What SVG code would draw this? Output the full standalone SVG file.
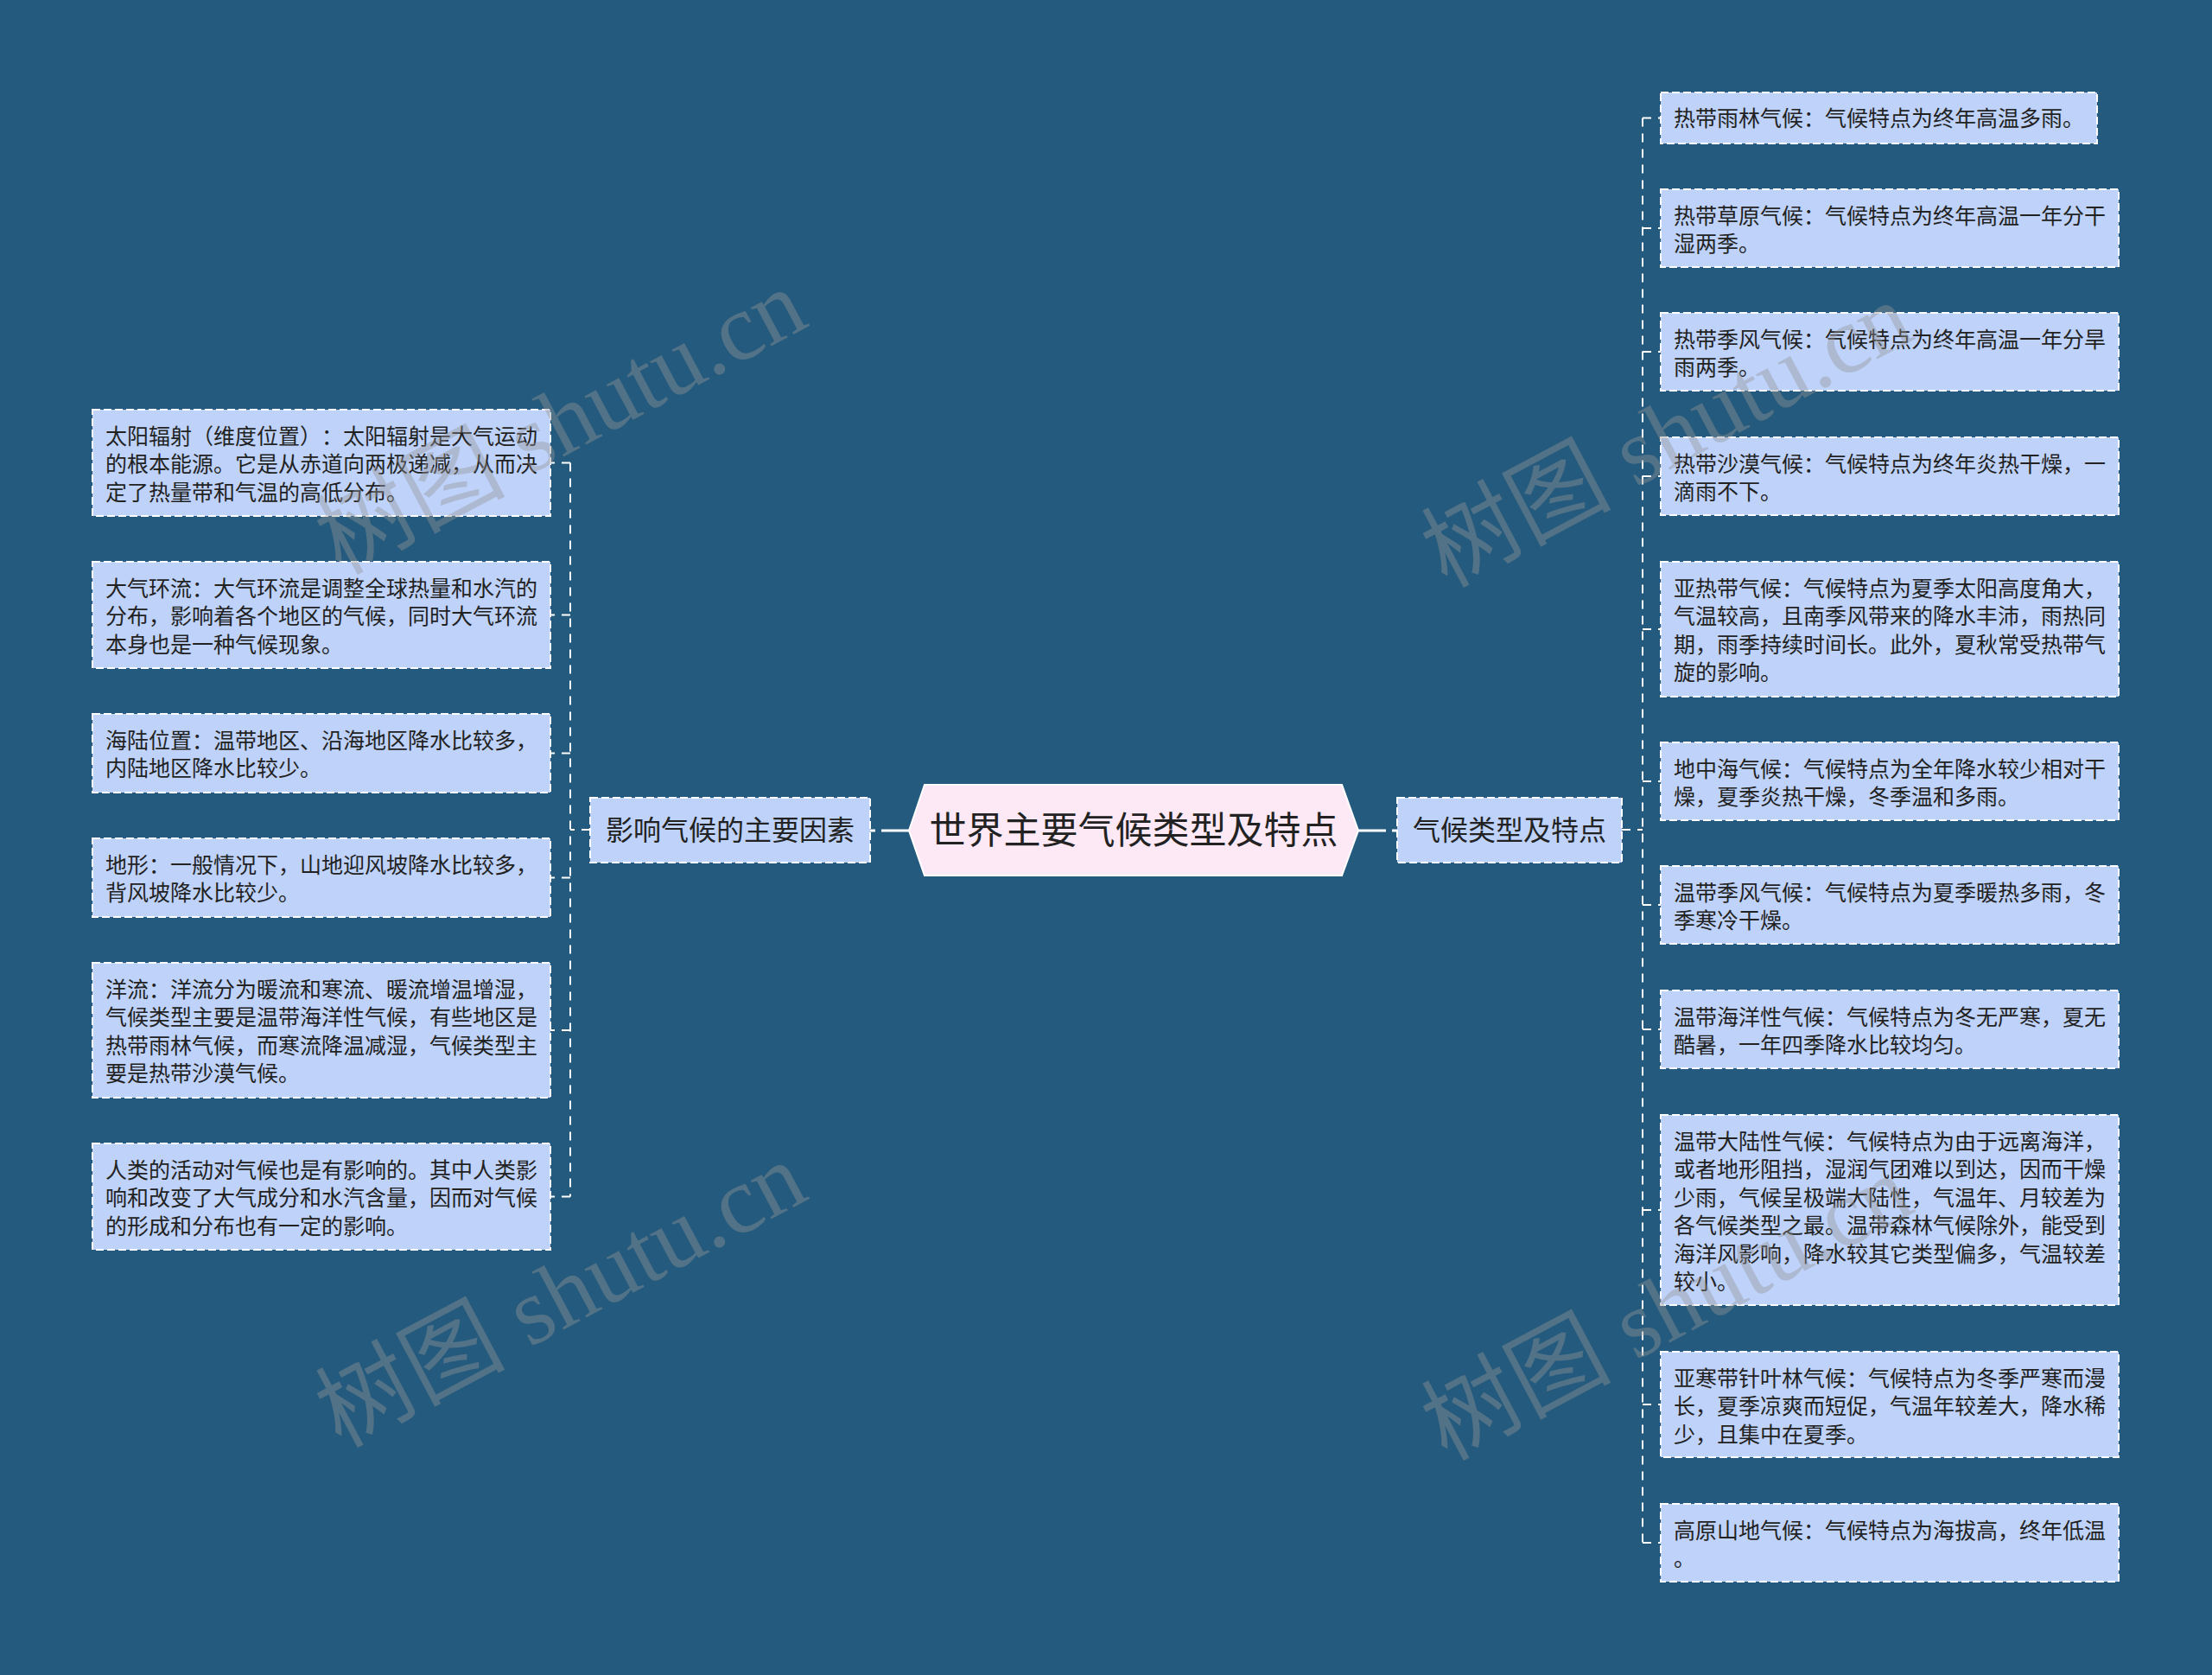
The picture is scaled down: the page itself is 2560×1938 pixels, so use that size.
<svg xmlns="http://www.w3.org/2000/svg" width="2560" height="1938" viewBox="0 0 2560 1938">
<style>
text{text-spacing-trim:space-all;font-feature-settings:"chws" 0,"halt" 0}
.bg{fill:#245a7d}
.box{fill:#bed2fa;stroke:#ffffff;stroke-width:2;stroke-dasharray:9 4}
.t{font-family:"Noto Sans CJK SC","Noto Sans",sans-serif;font-size:25px;fill:#222222}
.bt{font-family:"Noto Sans CJK SC","Noto Sans",sans-serif;font-size:32px;fill:#222222;text-anchor:middle}
.ct{font-family:"Noto Sans CJK SC","Noto Sans",sans-serif;font-size:43px;fill:#222222;text-anchor:middle}
.dash{fill:none;stroke:#ffffff;stroke-width:2;stroke-dasharray:10 8}
.solid{fill:none;stroke:#ffffff;stroke-width:3}
.wm{font-family:"Liberation Serif","Noto Sans CJK SC",serif;font-size:110px;fill:#969696;opacity:0.4;text-anchor:middle}
</style>
<rect class="bg" x="0" y="0" width="2560" height="1938"/>

<g id="connectors">
<path class="solid" d="M1052,961 H1020 M1013,961 H1007"/>
<path class="solid" d="M1572,961 H1604 M1611,961 H1617"/>
<path class="dash" d="M683,960 H660"/>
<path class="dash" d="M660,535.5 V1384.5"/>
<path class="dash" d="M660,535.5 H637 M660,711.5 H637 M660,871.5 H637 M660,1015.5 H637 M660,1192 H637 M660,1384.5 H637"/>
<path class="dash" d="M1877,960 H1901"/>
<path class="dash" d="M1901,136.5 V1785"/>
<path class="dash" d="M1901,136.5 H1922 M1901,264 H1922 M1901,407 H1922 M1901,551 H1922 M1901,728 H1922 M1901,904 H1922 M1901,1047 H1922 M1901,1191 H1922 M1901,1400 H1922 M1901,1625 H1922 M1901,1785 H1922"/>
</g>

<g id="center">
<polygon points="1052,961 1070,908 1553,908 1572,961 1553,1013 1070,1013" fill="#fde8f5" stroke="#ffffff" stroke-width="2"/>
<text class="ct" x="1312" y="976">世界主要气候类型及特点</text>
</g>

<g id="branch-left">
<rect class="box" x="683" y="923" width="324" height="75"/>
<text class="bt" x="845" y="972">影响气候的主要因素</text>
</g>

<g id="branch-right">
<rect class="box" x="1617" y="923" width="260" height="75"/>
<text class="bt" x="1747" y="972">气候类型及特点</text>
</g>

<g id="l1"><rect class="box" x="107" y="474" width="530" height="123"/>
<text class="t" x="122" y="513.5">太阳辐射（维度位置）：太阳辐射是大气运动</text>
<text class="t" x="122" y="546">的根本能源。它是从赤道向两极递减，从而决</text>
<text class="t" x="122" y="578.5">定了热量带和气温的高低分布。</text></g>

<g id="l2"><rect class="box" x="107" y="650" width="530" height="123"/>
<text class="t" x="122" y="689.5">大气环流：大气环流是调整全球热量和水汽的</text>
<text class="t" x="122" y="722">分布，影响着各个地区的气候，同时大气环流</text>
<text class="t" x="122" y="754.5">本身也是一种气候现象。</text></g>

<g id="l3"><rect class="box" x="107" y="826" width="530" height="91"/>
<text class="t" x="122" y="865.5">海陆位置：温带地区、沿海地区降水比较多，</text>
<text class="t" x="122" y="898">内陆地区降水比较少。</text></g>

<g id="l4"><rect class="box" x="107" y="970" width="530" height="91"/>
<text class="t" x="122" y="1009.5">地形：一般情况下，山地迎风坡降水比较多，</text>
<text class="t" x="122" y="1042">背风坡降水比较少。</text></g>

<g id="l5"><rect class="box" x="107" y="1114" width="530" height="156"/>
<text class="t" x="122" y="1153.5">洋流：洋流分为暖流和寒流、暖流增温增湿，</text>
<text class="t" x="122" y="1186">气候类型主要是温带海洋性气候，有些地区是</text>
<text class="t" x="122" y="1218.5">热带雨林气候，而寒流降温减湿，气候类型主</text>
<text class="t" x="122" y="1251">要是热带沙漠气候。</text></g>

<g id="l6"><rect class="box" x="107" y="1323" width="530" height="123"/>
<text class="t" x="122" y="1362.5">人类的活动对气候也是有影响的。其中人类影</text>
<text class="t" x="122" y="1395">响和改变了大气成分和水汽含量，因而对气候</text>
<text class="t" x="122" y="1427.5">的形成和分布也有一定的影响。</text></g>

<g id="r1"><rect class="box" x="1922" y="107" width="505" height="59"/>
<text class="t" x="1937" y="146">热带雨林气候：气候特点为终年高温多雨。</text></g>

<g id="r2"><rect class="box" x="1922" y="219" width="530" height="90"/>
<text class="t" x="1937" y="258.5">热带草原气候：气候特点为终年高温一年分干</text>
<text class="t" x="1937" y="291">湿两季。</text></g>

<g id="r3"><rect class="box" x="1922" y="362" width="530" height="90"/>
<text class="t" x="1937" y="401.5">热带季风气候：气候特点为终年高温一年分旱</text>
<text class="t" x="1937" y="434">雨两季。</text></g>

<g id="r4"><rect class="box" x="1922" y="506" width="530" height="90"/>
<text class="t" x="1937" y="545.5">热带沙漠气候：气候特点为终年炎热干燥，一</text>
<text class="t" x="1937" y="578">滴雨不下。</text></g>

<g id="r5"><rect class="box" x="1922" y="650" width="530" height="156"/>
<text class="t" x="1937" y="689.5">亚热带气候：气候特点为夏季太阳高度角大，</text>
<text class="t" x="1937" y="722">气温较高，且南季风带来的降水丰沛，雨热同</text>
<text class="t" x="1937" y="754.5">期，雨季持续时间长。此外，夏秋常受热带气</text>
<text class="t" x="1937" y="787">旋的影响。</text></g>

<g id="r6"><rect class="box" x="1922" y="859" width="530" height="90"/>
<text class="t" x="1937" y="898.5">地中海气候：气候特点为全年降水较少相对干</text>
<text class="t" x="1937" y="931">燥，夏季炎热干燥，冬季温和多雨。</text></g>

<g id="r7"><rect class="box" x="1922" y="1002" width="530" height="90"/>
<text class="t" x="1937" y="1041.5">温带季风气候：气候特点为夏季暖热多雨，冬</text>
<text class="t" x="1937" y="1074">季寒冷干燥。</text></g>

<g id="r8"><rect class="box" x="1922" y="1146" width="530" height="90"/>
<text class="t" x="1937" y="1185.5">温带海洋性气候：气候特点为冬无严寒，夏无</text>
<text class="t" x="1937" y="1218">酷暑，一年四季降水比较均匀。</text></g>

<g id="r9"><rect class="box" x="1922" y="1290" width="530" height="220"/>
<text class="t" x="1937" y="1329.5">温带大陆性气候：气候特点为由于远离海洋，</text>
<text class="t" x="1937" y="1362">或者地形阻挡，湿润气团难以到达，因而干燥</text>
<text class="t" x="1937" y="1394.5">少雨，气候呈极端大陆性，气温年、月较差为</text>
<text class="t" x="1937" y="1427">各气候类型之最。温带森林气候除外，能受到</text>
<text class="t" x="1937" y="1459.5">海洋风影响，降水较其它类型偏多，气温较差</text>
<text class="t" x="1937" y="1492">较小。</text></g>

<g id="r10"><rect class="box" x="1922" y="1564" width="530" height="122"/>
<text class="t" x="1937" y="1603.5">亚寒带针叶林气候：气候特点为冬季严寒而漫</text>
<text class="t" x="1937" y="1636">长，夏季凉爽而短促，气温年较差大，降水稀</text>
<text class="t" x="1937" y="1668.5">少，且集中在夏季。</text></g>

<g id="r11"><rect class="box" x="1922" y="1740" width="530" height="90"/>
<text class="t" x="1937" y="1779.5">高原山地气候：气候特点为海拔高，终年低温</text>
<text class="t" x="1937" y="1812">。</text></g>

<g id="watermarks">
<text class="wm" transform="translate(650,490) rotate(-28)" x="0" y="35">树图 shutu.cn</text>
<text class="wm" transform="translate(650,1500) rotate(-28)" x="0" y="35">树图 shutu.cn</text>
<text class="wm" transform="translate(1930,505) rotate(-28)" x="0" y="35">树图 shutu.cn</text>
<text class="wm" transform="translate(1930,1515) rotate(-28)" x="0" y="35">树图 shutu.cn</text>
</g>
</svg>
